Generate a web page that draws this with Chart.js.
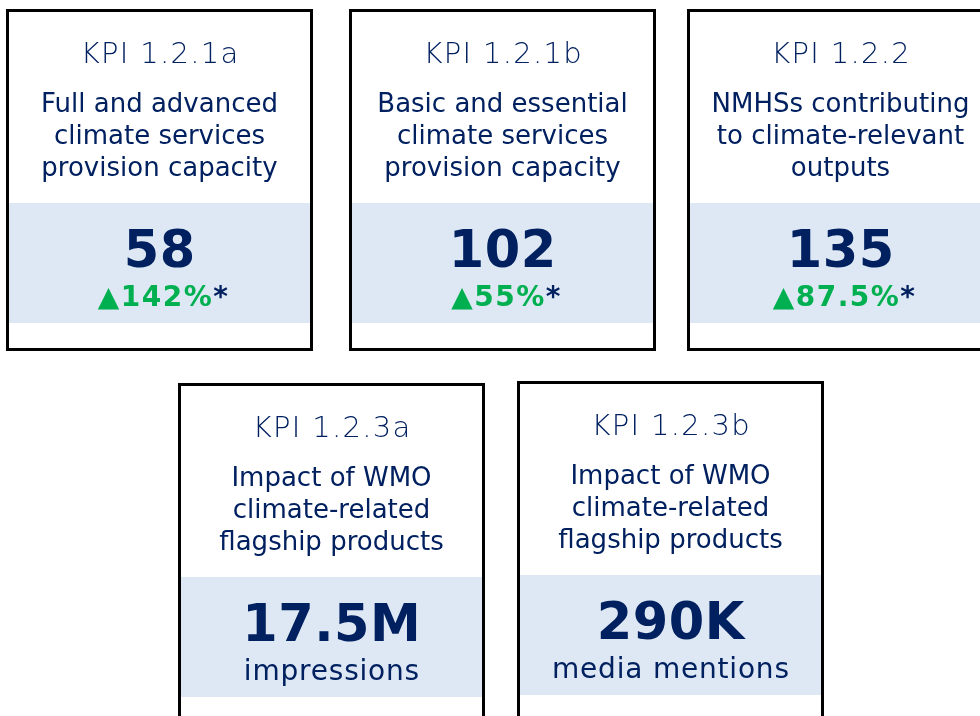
<!DOCTYPE html>
<html>
<head>
<meta charset="utf-8">
<script src="https://cdn.jsdelivr.net/npm/chart.js@4"></script>
<style>
    html, body { margin: 0; padding: 0; background: #ffffff; }
    #wrap { width: 980px; height: 716px; position: relative; overflow: hidden; }
</style>
</head>
<body>
<div id="wrap"><canvas id="kpi-chart" width="980" height="716"></canvas></div>
<script>
const kpiCodes = ['KPI 1.2.1a', 'KPI 1.2.1b', 'KPI 1.2.2', 'KPI 1.2.3a', 'KPI 1.2.3b'];
const kpiTitles = [
    ['Full and advanced', 'climate services', 'provision capacity'],
    ['Basic and essential', 'climate services', 'provision capacity'],
    ['NMHSs contributing', 'to climate-relevant', 'outputs'],
    ['Impact of WMO', 'climate-related', 'flagship products'],
    ['Impact of WMO', 'climate-related', 'flagship products'],
];
const kpiValues = ['58', '102', '135', '17.5M', '290K'];
const kpiChanges = ['142%', '55%', '87.5%', null, null];
const kpiUnits = [null, null, null, 'impressions', 'media mentions'];

// card frames (layout only): left, top of each box
const CARD_POS = [[6, 9], [349, 9], [687, 9], [178, 383], [517, 381]];
const CARD_W = 307;
const CARD_H = 342;

const NAVY = '#002060';
const GREEN = '#00b050';
const BAND = '#dee8f4';
const FONT = '"DejaVu Sans", Verdana, sans-serif';

// centred text with extra tracking (canvas letterSpacing also pads the last glyph)
function drawSpaced(ctx, text, cx, y, spacing) {
    ctx.letterSpacing = spacing + 'px';
    const w = ctx.measureText(text).width - spacing;
    ctx.textAlign = 'left';
    ctx.fillText(text, cx - w / 2, y);
    ctx.letterSpacing = '0px';
}

const cardsPlugin = {
    id: 'kpiCards',
    afterDraw(chart) {
        const ctx = chart.ctx;
        const ox = chart.chartArea.left;
        const oy = chart.chartArea.top;
        ctx.save();
        ctx.textBaseline = 'alphabetic';
        kpiCodes.forEach((code, i) => {
            const x = ox + CARD_POS[i][0];
            const y = oy + CARD_POS[i][1];
            const cx = x + CARD_W / 2;

            ctx.fillStyle = '#ffffff';
            ctx.fillRect(x, y, CARD_W, CARD_H);
            ctx.fillStyle = BAND;
            ctx.fillRect(x + 3, y + 194, CARD_W - 6, 120);
            ctx.strokeStyle = '#000000';
            ctx.lineWidth = 3;
            ctx.strokeRect(x + 1.5, y + 1.5, CARD_W - 3, CARD_H - 3);

            ctx.fillStyle = NAVY;
            ctx.font = `200 29px ${FONT}`;
            drawSpaced(ctx, code, cx, y + 54, 1.3);

            ctx.font = `400 26px ${FONT}`;
            kpiTitles[i].forEach((line, j) => {
                drawSpaced(ctx, line, cx, y + 103 + j * 32, 0);
            });

            ctx.font = `700 51px ${FONT}`;
            drawSpaced(ctx, kpiValues[i], cx, y + 258, 0.5);

            if (kpiChanges[i]) {
                // arrow + percentage centred, footnote star hangs off the right
                ctx.font = `700 28px ${FONT}`;
                ctx.letterSpacing = '1.5px';
                const main = '\u25B2' + kpiChanges[i];
                const wMain = ctx.measureText(main).width;
                const start = cx - wMain / 2 - 4;
                ctx.textAlign = 'left';
                ctx.fillStyle = GREEN;
                ctx.fillText(main, start, y + 297);
                ctx.fillStyle = NAVY;
                ctx.fillText('*', start + wMain, y + 297);
                ctx.letterSpacing = '0px';
            } else if (kpiUnits[i]) {
                ctx.font = `400 28px ${FONT}`;
                drawSpaced(ctx, kpiUnits[i], cx, y + 297, 0.8);
            }
        });
        ctx.restore();
    },
};

new Chart(document.getElementById('kpi-chart'), {
    type: 'bar',
    data: {
        labels: kpiCodes,
        datasets: [{ data: [], backgroundColor: 'rgba(0,0,0,0)' }],
    },
    options: {
        responsive: false,
        animation: false,
        layout: { padding: 0 },
        events: [],
        plugins: { legend: { display: false }, tooltip: { enabled: false } },
        scales: { x: { display: false }, y: { display: false } },
    },
    plugins: [cardsPlugin],
});
</script>
</body>
</html>
